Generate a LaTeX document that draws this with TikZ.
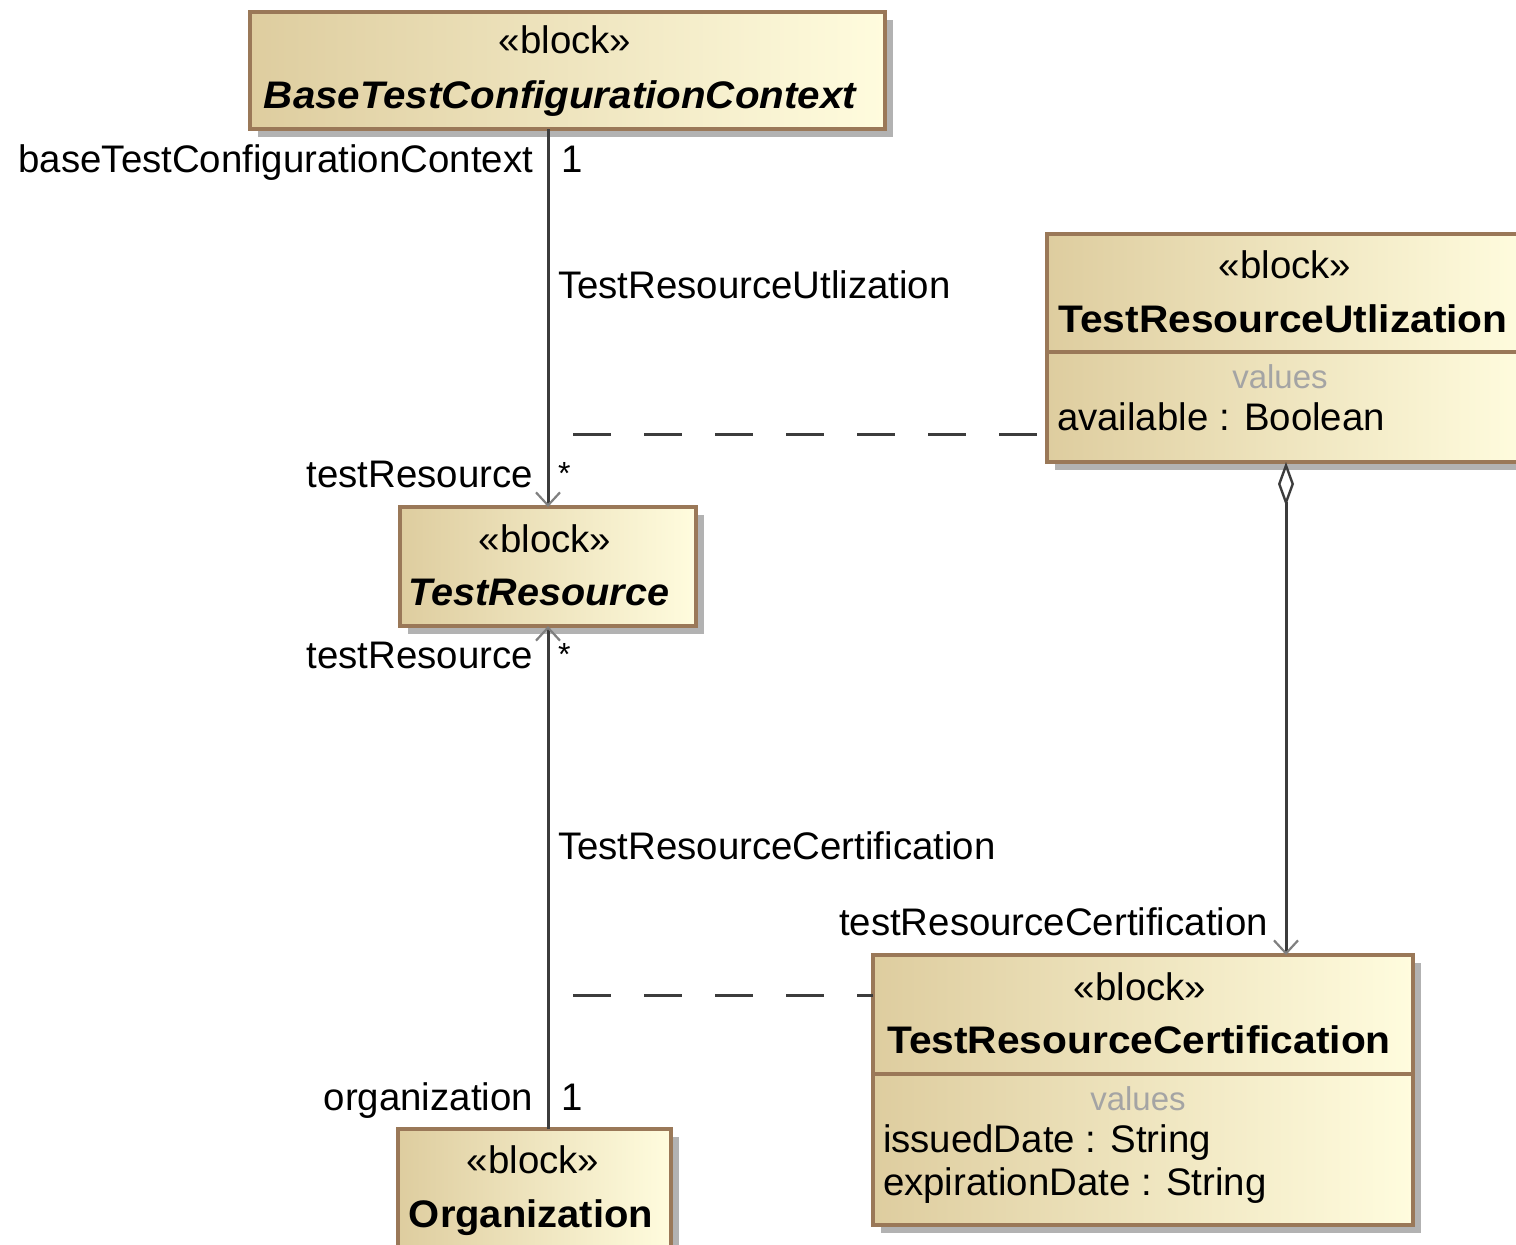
\documentclass[tikz,border=0pt]{standalone}
\usepackage{fontspec}
\setmainfont{Liberation Sans}
\usetikzlibrary{arrows.meta,shadows}

\definecolor{blockline}{HTML}{9A7858}
\definecolor{blockdark}{HTML}{DECD9F}
\definecolor{blocklight}{HTML}{FFFCDE}
\definecolor{shadowgray}{HTML}{B2B2B2}
\definecolor{wire}{HTML}{3C3C3C}
\definecolor{compgray}{HTML}{A4A4A4}

\tikzset{
  blockbox/.style={rectangle, draw=blockline, line width=3.6pt,
    left color=blockdark, right color=blocklight,
    inner sep=0pt, outer sep=0pt,
    drop shadow={shadow xshift=8pt, shadow yshift=-8pt, fill=shadowgray, opacity=1}},
  txt/.style={inner sep=0pt, outer sep=0pt, anchor=base, text=black,
    font=\fontsize{38.4}{46}\selectfont},
  ltxt/.style={txt, anchor=base west},
  rtxt/.style={txt, anchor=base east},
  comptxt/.style={txt, text=compgray, font=\fontsize{33}{40}\selectfont},
  divider/.style={draw=blockline, line width=3.6pt},
  conn/.style={draw=wire, line width=3pt},
  acline/.style={draw=wire, line width=3pt, dash pattern=on 38pt off 33pt},
  barb/.style={-{Straight Barb[length=13pt, width=24pt, line width=2.2pt, color=gray]}},
  aggr/.style={{Diamond[open, length=44pt, width=16pt, line width=2.4pt, fill=white]}-{Straight Barb[length=13pt, width=24pt, line width=2.2pt, color=gray]}}
}

\begin{document}
\begin{tikzpicture}[x=1pt, y=-1pt]
\useasboundingbox (0,0) rectangle (1516,1245);
\clip (0,0) rectangle (1516,1245);
\fill[white] (0,0) rectangle (1516,1245);

% ---- blocks ----
\node[blockbox, minimum width=635pt, minimum height=117pt] (base) at (567.5,70.5) {};
\node[txt] (baseSt) at (565,53) {«block»};
\node[txt, font=\fontsize{38.4}{46}\selectfont\bfseries\itshape] (baseName) at (560,108) {\scalebox{1.05}[1]{BaseTestConfigurationContext}};

\node[blockbox, minimum width=296pt, minimum height=119pt] (tr) at (548,566.5) {};
\node[txt] (trSt) at (545,552) {«block»};
\node[txt, font=\fontsize{38.4}{46}\selectfont\bfseries\itshape] (trName) at (539,605) {\scalebox{1.03}[1]{TestResource}};

\node[blockbox, minimum width=478pt, minimum height=228pt] (tru) at (1286,348) {};
\draw[divider] (tru.west |- 0,352) -- (tru.east |- 0,352);
\node[txt] (truSt) at (1285,278) {«block»};
\node[txt, font=\fontsize{38.4}{46}\selectfont\bfseries] (truName) at (1283,332) {\scalebox{1.06}[1]{TestResourceUtlization}};
\node[comptxt] (truVal) at (1280,388) {values};
\node[ltxt] (truAv) at (1057,430) {available : Boolean};

\node[blockbox, minimum width=540pt, minimum height=270pt] (trc) at (1143,1090) {};
\draw[divider] (trc.west |- 0,1074) -- (trc.east |- 0,1074);
\node[txt] (trcSt) at (1140,1000) {«block»};
\node[txt, font=\fontsize{38.4}{46}\selectfont\bfseries] (trcName) at (1139,1053) {\scalebox{1.06}[1]{TestResourceCertification}};
\node[comptxt] (trcVal) at (1138,1110) {values};
\node[ltxt] (trcIss) at (883,1152) {issuedDate : String};
\node[ltxt] (trcExp) at (883,1195) {expirationDate : String};

\node[blockbox, minimum width=273pt, minimum height=160pt] (org) at (534.5,1209) {};
\node[txt] (orgSt) at (533,1173) {«block»};
\node[txt, font=\fontsize{38.4}{46}\selectfont\bfseries] (orgName) at (531,1227) {\scalebox{1.04}[1]{Organization}};

% ---- associations ----
\draw[conn, barb] (base.south -| tr.north) -- (tr.north);
\draw[conn, barb] (org.north -| tr.south) -- (tr.south);
\draw[conn, aggr] (tru.south) -- (tru.south |- trc.north);

% association classes
\coordinate (acUtil) at (573,434);
\coordinate (acCert) at (573,995);
\draw[acline] (acUtil) -- (acUtil -| tru.west);
\draw[acline] (acCert) -- (acCert -| trc.west);

% ---- role names and multiplicities ----
\node[rtxt] (rBase) at (533,172) {baseTestConfigurationContext};
\node[ltxt] (mBase) at (561,172) {1};
\node[ltxt] (aUtil) at (558,298) {TestResourceUtlization};
\node[rtxt] (rTr1) at (533,487) {testResource};
\node[ltxt, font=\fontsize{32}{40}\selectfont] (mTr1) at (558,484) {*};
\node[rtxt] (rTr2) at (533,668) {testResource};
\node[ltxt, font=\fontsize{32}{40}\selectfont] (mTr2) at (558,665) {*};
\node[ltxt] (aCert) at (558,859) {TestResourceCertification};
\node[rtxt] (rCert) at (1268,935) {testResourceCertification};
\node[rtxt] (rOrg) at (533,1110) {organization};
\node[ltxt] (mOrg) at (561,1110) {1};
\end{tikzpicture}
\end{document}
